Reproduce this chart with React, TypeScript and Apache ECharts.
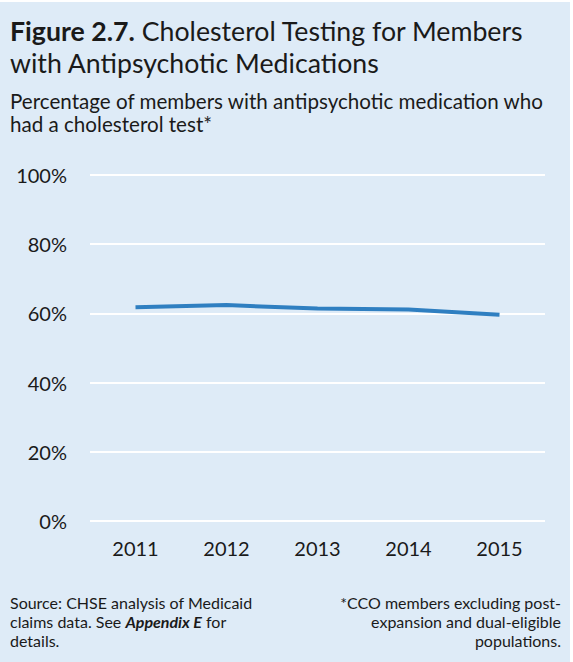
import React, { useEffect, useRef } from "react";
import * as echarts from "echarts";

const years = ["2011", "2012", "2013", "2014", "2015"];
const testedPct = [61.8, 62.4, 61.4, 61.1, 59.6];
const yTicks = { min: 0, max: 100, interval: 20 };

const FONT = "Lato, 'Noto Sans', sans-serif";

export default function App() {
  const ref = useRef<HTMLDivElement>(null);
  useEffect(() => {
    const chart = echarts.init(ref.current!, null, { renderer: "svg" });
    chart.setOption({
      animation: false,
      backgroundColor: "#ffffff",
      textStyle: { fontFamily: FONT },
      graphic: [
        { type: "rect", z: -10, shape: { x: 0, y: 2, width: 570, height: 660 }, style: { fill: "#deebf7" } },
        {
          type: "text",
          x: 10,
          y: 15,
          style: {
            text: "{b|Figure 2.7.} Cholesterol Testing for Members\nwith Antipsychotic Medications",
            font: `26.7px ${FONT}`,
            lineHeight: 32,
            fill: "#1a1a1a",
            rich: {
              b: { fontWeight: "bold", fontSize: 26.7, fontFamily: FONT, fill: "#1a1a1a", lineHeight: 32 },
            },
          },
        },
        {
          type: "text",
          x: 10,
          y: 89,
          style: {
            text: "Percentage of members with antipsychotic medication who\nhad a cholesterol test*",
            font: `20.6px ${FONT}`,
            lineHeight: 23,
            fill: "#1a1a1a",
          },
        },
        {
          type: "text",
          x: 10,
          y: 592.5,
          style: {
            text: "Source: CHSE analysis of Medicaid\nclaims data. See {i|Appendix E} for\ndetails.",
            font: `16px ${FONT}`,
            lineHeight: 19,
            fill: "#1a1a1a",
            rich: {
              i: { fontWeight: "bold", fontStyle: "italic", fontSize: 16, fontFamily: FONT, fill: "#1a1a1a", lineHeight: 19 },
            },
          },
        },
        {
          type: "text",
          x: 561,
          y: 592.5,
          style: {
            text: "*CCO members excluding post-\nexpansion and dual-eligible\npopulations.",
            font: `16px ${FONT}`,
            lineHeight: 19,
            align: "right",
            fill: "#1a1a1a",
          },
        },
      ],
      grid: { left: 90, right: 28, top: 175, bottom: 141, containLabel: false },
      xAxis: {
        type: "category",
        data: years,
        boundaryGap: true,
        axisLine: { show: false },
        axisTick: { show: false },
        axisLabel: { fontSize: 20, color: "#1a1a1a", margin: 17, fontFamily: FONT },
      },
      yAxis: {
        type: "value",
        min: yTicks.min,
        max: yTicks.max,
        interval: yTicks.interval,
        axisLine: { show: false },
        axisTick: { show: false },
        splitLine: { lineStyle: { color: "#ffffff", width: 2 } },
        axisLabel: { fontSize: 20, color: "#1a1a1a", margin: 23, fontFamily: FONT, formatter: "{value}%" },
      },
      series: [
        {
          type: "line",
          data: testedPct,
          symbol: "none",
          lineStyle: { color: "#2f7fc1", width: 4 },
        },
      ],
    });
    return () => chart.dispose();
  }, []);
  return <div ref={ref} style={{ width: 573, height: 662, position: "absolute", left: 0, top: 0 }} />;
}
